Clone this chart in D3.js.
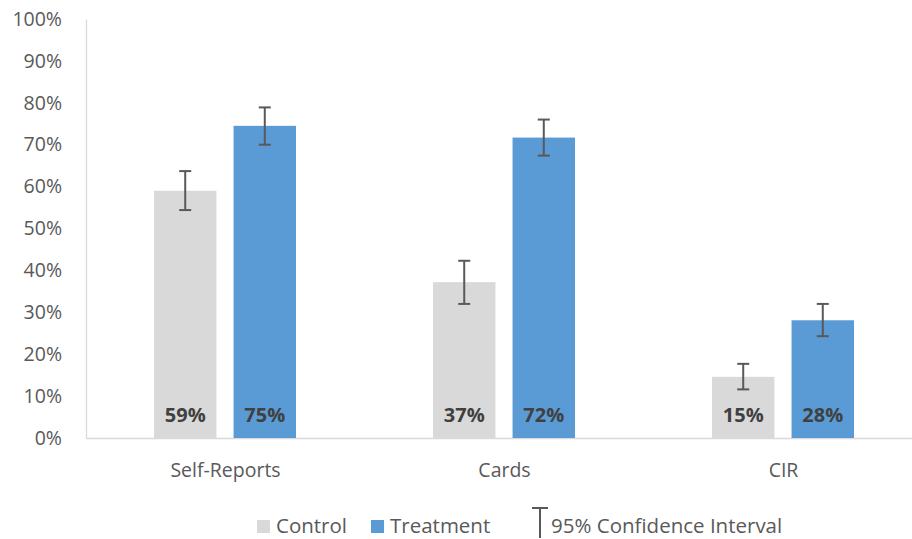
<!DOCTYPE html>
<html><head><meta charset="utf-8">
<script src="https://cdn.jsdelivr.net/npm/d3@7"></script>
<style>body{margin:0;background:#fff}svg{display:block}text{font-family:"Open Sans",sans-serif}</style>
</head><body><svg id="c" width="912" height="539"></svg>
<script>
const categories = ["Self-Reports", "Cards", "CIR"];
const seriesNames = ["Control", "Treatment"];
const controlValues = [0.59, 0.372, 0.146];
const treatmentValues = [0.745, 0.717, 0.281];
const controlLow = [0.544, 0.32, 0.116];
const controlHigh = [0.637, 0.423, 0.177];
const treatmentLow = [0.70, 0.674, 0.243];
const treatmentHigh = [0.789, 0.76, 0.32];
const dataLabels = [["59%", "75%"], ["37%", "72%"], ["15%", "28%"]];
const yTicks = [0, 0.1, 0.2, 0.3, 0.4, 0.5, 0.6, 0.7, 0.8, 0.9, 1.0];
const colors = {Control: "#d9d9d9", Treatment: "#5b9bd5"};

const svg = d3.select("#c");
const x0 = d3.scaleBand().domain(categories).range([86, 923]).paddingInner(0).paddingOuter(0);
const x1 = d3.scaleBand().domain(seriesNames).range([68, 279 - 69]).paddingInner(0.215);
const y = d3.scaleLinear().domain([0, 1]).range([438, 19]);

// axes
const yAxis = d3.axisLeft(y).tickValues(yTicks).tickFormat(d3.format(".0%")).tickSize(0).tickPadding(24);
const gy = svg.append("g").attr("transform", "translate(86,0)").call(yAxis);
gy.select(".domain").attr("stroke", "#d9d9d9").attr("stroke-width", 1.3);
gy.selectAll("text").attr("fill", "#595959").attr("font-size", 19.5).attr("font-family", "'Open Sans',sans-serif");

const xAxis = d3.axisBottom(x0).tickSize(0);
const gx = svg.append("g").attr("transform", "translate(0,438)").call(xAxis);
gx.select(".domain").attr("stroke", "#d9d9d9").attr("stroke-width", 1.3);
gx.selectAll("text").attr("fill", "#595959").attr("font-size", 19.5).attr("font-family", "'Open Sans',sans-serif")
  .attr("y", 39).attr("dy", null);

const rows = categories.map((c, i) => ({
  cat: c,
  bars: [
    {s: "Control", v: controlValues[i], lo: controlLow[i], hi: controlHigh[i], lab: dataLabels[i][0]},
    {s: "Treatment", v: treatmentValues[i], lo: treatmentLow[i], hi: treatmentHigh[i], lab: dataLabels[i][1]}
  ]
}));

const g = svg.selectAll("g.cat").data(rows).join("g").attr("class", "cat")
  .attr("transform", d => `translate(${x0(d.cat)},0)`);

g.selectAll("rect").data(d => d.bars).join("rect")
  .attr("x", d => x1(d.s)).attr("width", x1.bandwidth())
  .attr("y", d => y(d.v)).attr("height", d => y(0) - y(d.v))
  .attr("fill", d => colors[d.s]);

g.selectAll("text.lab").data(d => d.bars).join("text").attr("class", "lab")
  .attr("x", d => x1(d.s) + x1.bandwidth() / 2).attr("y", 421.5)
  .attr("text-anchor", "middle").attr("font-size", 20).attr("font-weight", 700)
  .attr("fill", "#404040").text(d => d.lab);

const eb = g.selectAll("g.eb").data(d => d.bars).join("g").attr("class", "eb")
  .attr("stroke", "#595959").attr("stroke-width", 2);
eb.append("line").attr("x1", d => x1(d.s) + x1.bandwidth() / 2).attr("x2", d => x1(d.s) + x1.bandwidth() / 2)
  .attr("y1", d => y(d.hi)).attr("y2", d => y(d.lo));
eb.append("line").attr("x1", d => x1(d.s) + x1.bandwidth() / 2 - 6).attr("x2", d => x1(d.s) + x1.bandwidth() / 2 + 6)
  .attr("y1", d => y(d.hi)).attr("y2", d => y(d.hi));
eb.append("line").attr("x1", d => x1(d.s) + x1.bandwidth() / 2 - 6).attr("x2", d => x1(d.s) + x1.bandwidth() / 2 + 6)
  .attr("y1", d => y(d.lo)).attr("y2", d => y(d.lo));

// legend
const leg = svg.append("g");
const items = [{n: "Control", x: 257}, {n: "Treatment", x: 371}];
items.forEach(it => {
  leg.append("rect").attr("x", it.x).attr("y", 520).attr("width", 13).attr("height", 13).attr("fill", colors[it.n]);
  leg.append("text").attr("x", it.x + 19).attr("y", 533).attr("font-size", 20.5).attr("fill", "#595959").text(it.n);
});
leg.append("line").attr("x1", 532).attr("x2", 548).attr("y1", 508).attr("y2", 508).attr("stroke", "#595959").attr("stroke-width", 2);
leg.append("line").attr("x1", 540).attr("x2", 540).attr("y1", 508).attr("y2", 538).attr("stroke", "#595959").attr("stroke-width", 2);
leg.append("text").attr("x", 551).attr("y", 533).attr("font-size", 20.5).attr("fill", "#595959").text("95% Confidence Interval");
</script></body></html>
